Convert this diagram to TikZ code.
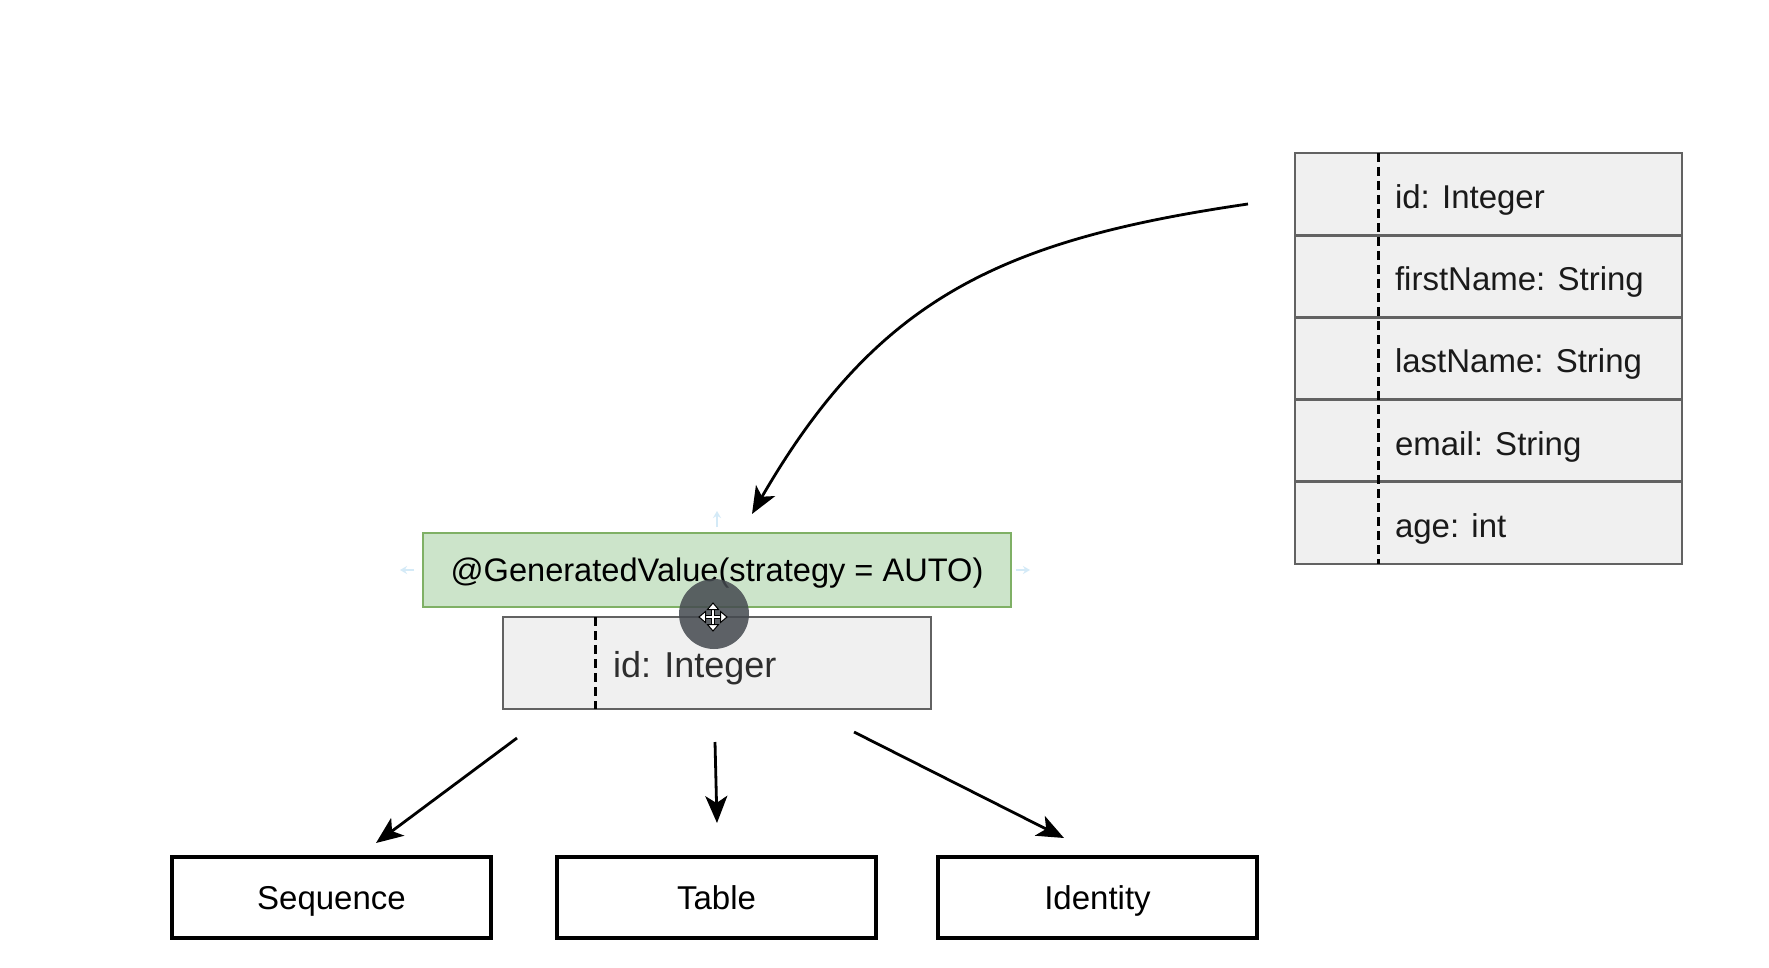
\documentclass[tikz,border=0pt]{standalone}
\usepackage{fontspec}
\setmainfont{Liberation Sans}
\usetikzlibrary{arrows.meta}
\definecolor{gfill}{HTML}{CCE4CA}
\definecolor{gdraw}{HTML}{7FB065}
\definecolor{cfill}{HTML}{F0F0F0}
\definecolor{cdraw}{HTML}{626262}
\definecolor{ctext}{HTML}{1A1A1A}
\definecolor{hint}{HTML}{D4EAF7}
\definecolor{cursorc}{HTML}{44494F}
\begin{document}
\begin{tikzpicture}[x=1pt,y=-1pt,
  every node/.style={inner sep=0pt,outer sep=0pt},
  annot/.style={draw=gdraw,fill=gfill,line width=2.8pt,minimum width=588pt,minimum height=74pt,font=\fontsize{32.6}{38}\selectfont,text height=23pt,text depth=0pt},
  field/.style={draw=cdraw,fill=cfill,line width=2.8pt,minimum width=387pt,minimum height=82.2pt},
  fieldtext/.style={anchor=base west,text=ctext,font=\fontsize{33}{40}\selectfont},
  stratbox/.style={draw=black,line width=3.2pt,minimum width=319pt,minimum height=81pt,font=\fontsize{33}{40}\selectfont,text height=24pt,text depth=0pt},
  sepline/.style={draw=black,line width=3pt,dash pattern=on 9pt off 5pt},
  arr/.style={draw=black,line width=2.8pt,-{Stealth[length=27pt,width=22pt,inset=7pt]}},
  hintarr/.style={draw=hint,line width=2pt,-{Stealth[length=7pt,width=8pt]}}
]
\useasboundingbox[fill=white] (0,0) rectangle (1769,968);

% entity table
\node[field] (r1) at (1488.5,194.1) {};
\node[field] (r2) at (1488.5,276.3) {};
\node[field] (r3) at (1488.5,358.5) {};
\node[field] (r4) at (1488.5,440.7) {};
\node[field] (r5) at (1488.5,522.9) {};
\draw[sepline] ([xshift=83pt]r1.north west) -- ([xshift=83pt]r5.south west);
\node[fieldtext] (t1) at (1395,208.5) {id: Integer};
\node[fieldtext] (t2) at (1395,290.7) {firstName: String};
\node[fieldtext] (t3) at (1395,372.9) {lastName: String};
\node[fieldtext] (t4) at (1395,455.1) {email: String};
\node[fieldtext] (t5) at (1395,537.3) {age: int};

% annotation and field
\node[annot] (gen) at (717,570) {@GeneratedValue(strategy = AUTO)};
\node[field,minimum width=428pt,minimum height=92pt] (gid) at (717,663) {};
\draw[sepline] ([xshift=92pt]gid.north west) -- ([xshift=92pt]gid.south west);
\node[fieldtext,text=black!82,font=\fontsize{36}{43}\selectfont] (gidt) at (613,677) {id: Integer};

% strategies
\node[stratbox] (seq) at (331.5,897.5) {Sequence};
\node[stratbox] (tab) at (716.5,897.5) {Table};
\node[stratbox] (ide) at (1097.5,897.5) {Identity};

% connectors
\coordinate (cs) at (1248,204);
\coordinate (ce) at (752,514);
\draw[arr] (cs) .. controls (1001,240) and (877,298) .. (ce);
\coordinate (s1) at (517,738);
\coordinate (e1) at (376,843);
\coordinate (s2) at (715,742);
\coordinate (e2) at (717,823);
\coordinate (s3) at (854,732);
\coordinate (e3) at (1064,838);
\draw[arr] (s1) -- (e1);
\draw[arr] (s2) -- (e2);
\draw[arr] (s3) -- (e3);

% faint hover hints
\draw[hintarr] (717,527) -- (717,511);
\draw[hintarr] (414,570) -- (400,570);
\draw[hintarr] (1016,570) -- (1030,570);

% cursor highlight
\fill[cursorc,opacity=0.85] (714,614) circle (35pt);
\draw[black,line width=4.5pt] (702,617) -- (724,617) (713,606) -- (713,628);
\draw[white,line width=2pt] (702,617) -- (724,617) (713,606) -- (713,628);
\filldraw[fill=white,draw=black,line width=1pt] (713,603) -- (707.5,609.5) -- (718.5,609.5) -- cycle;
\filldraw[fill=white,draw=black,line width=1pt] (713,631) -- (707.5,624.5) -- (718.5,624.5) -- cycle;
\filldraw[fill=white,draw=black,line width=1pt] (699,617) -- (705.5,611.5) -- (705.5,622.5) -- cycle;
\filldraw[fill=white,draw=black,line width=1pt] (727,617) -- (720.5,611.5) -- (720.5,622.5) -- cycle;
\end{tikzpicture}
\end{document}
